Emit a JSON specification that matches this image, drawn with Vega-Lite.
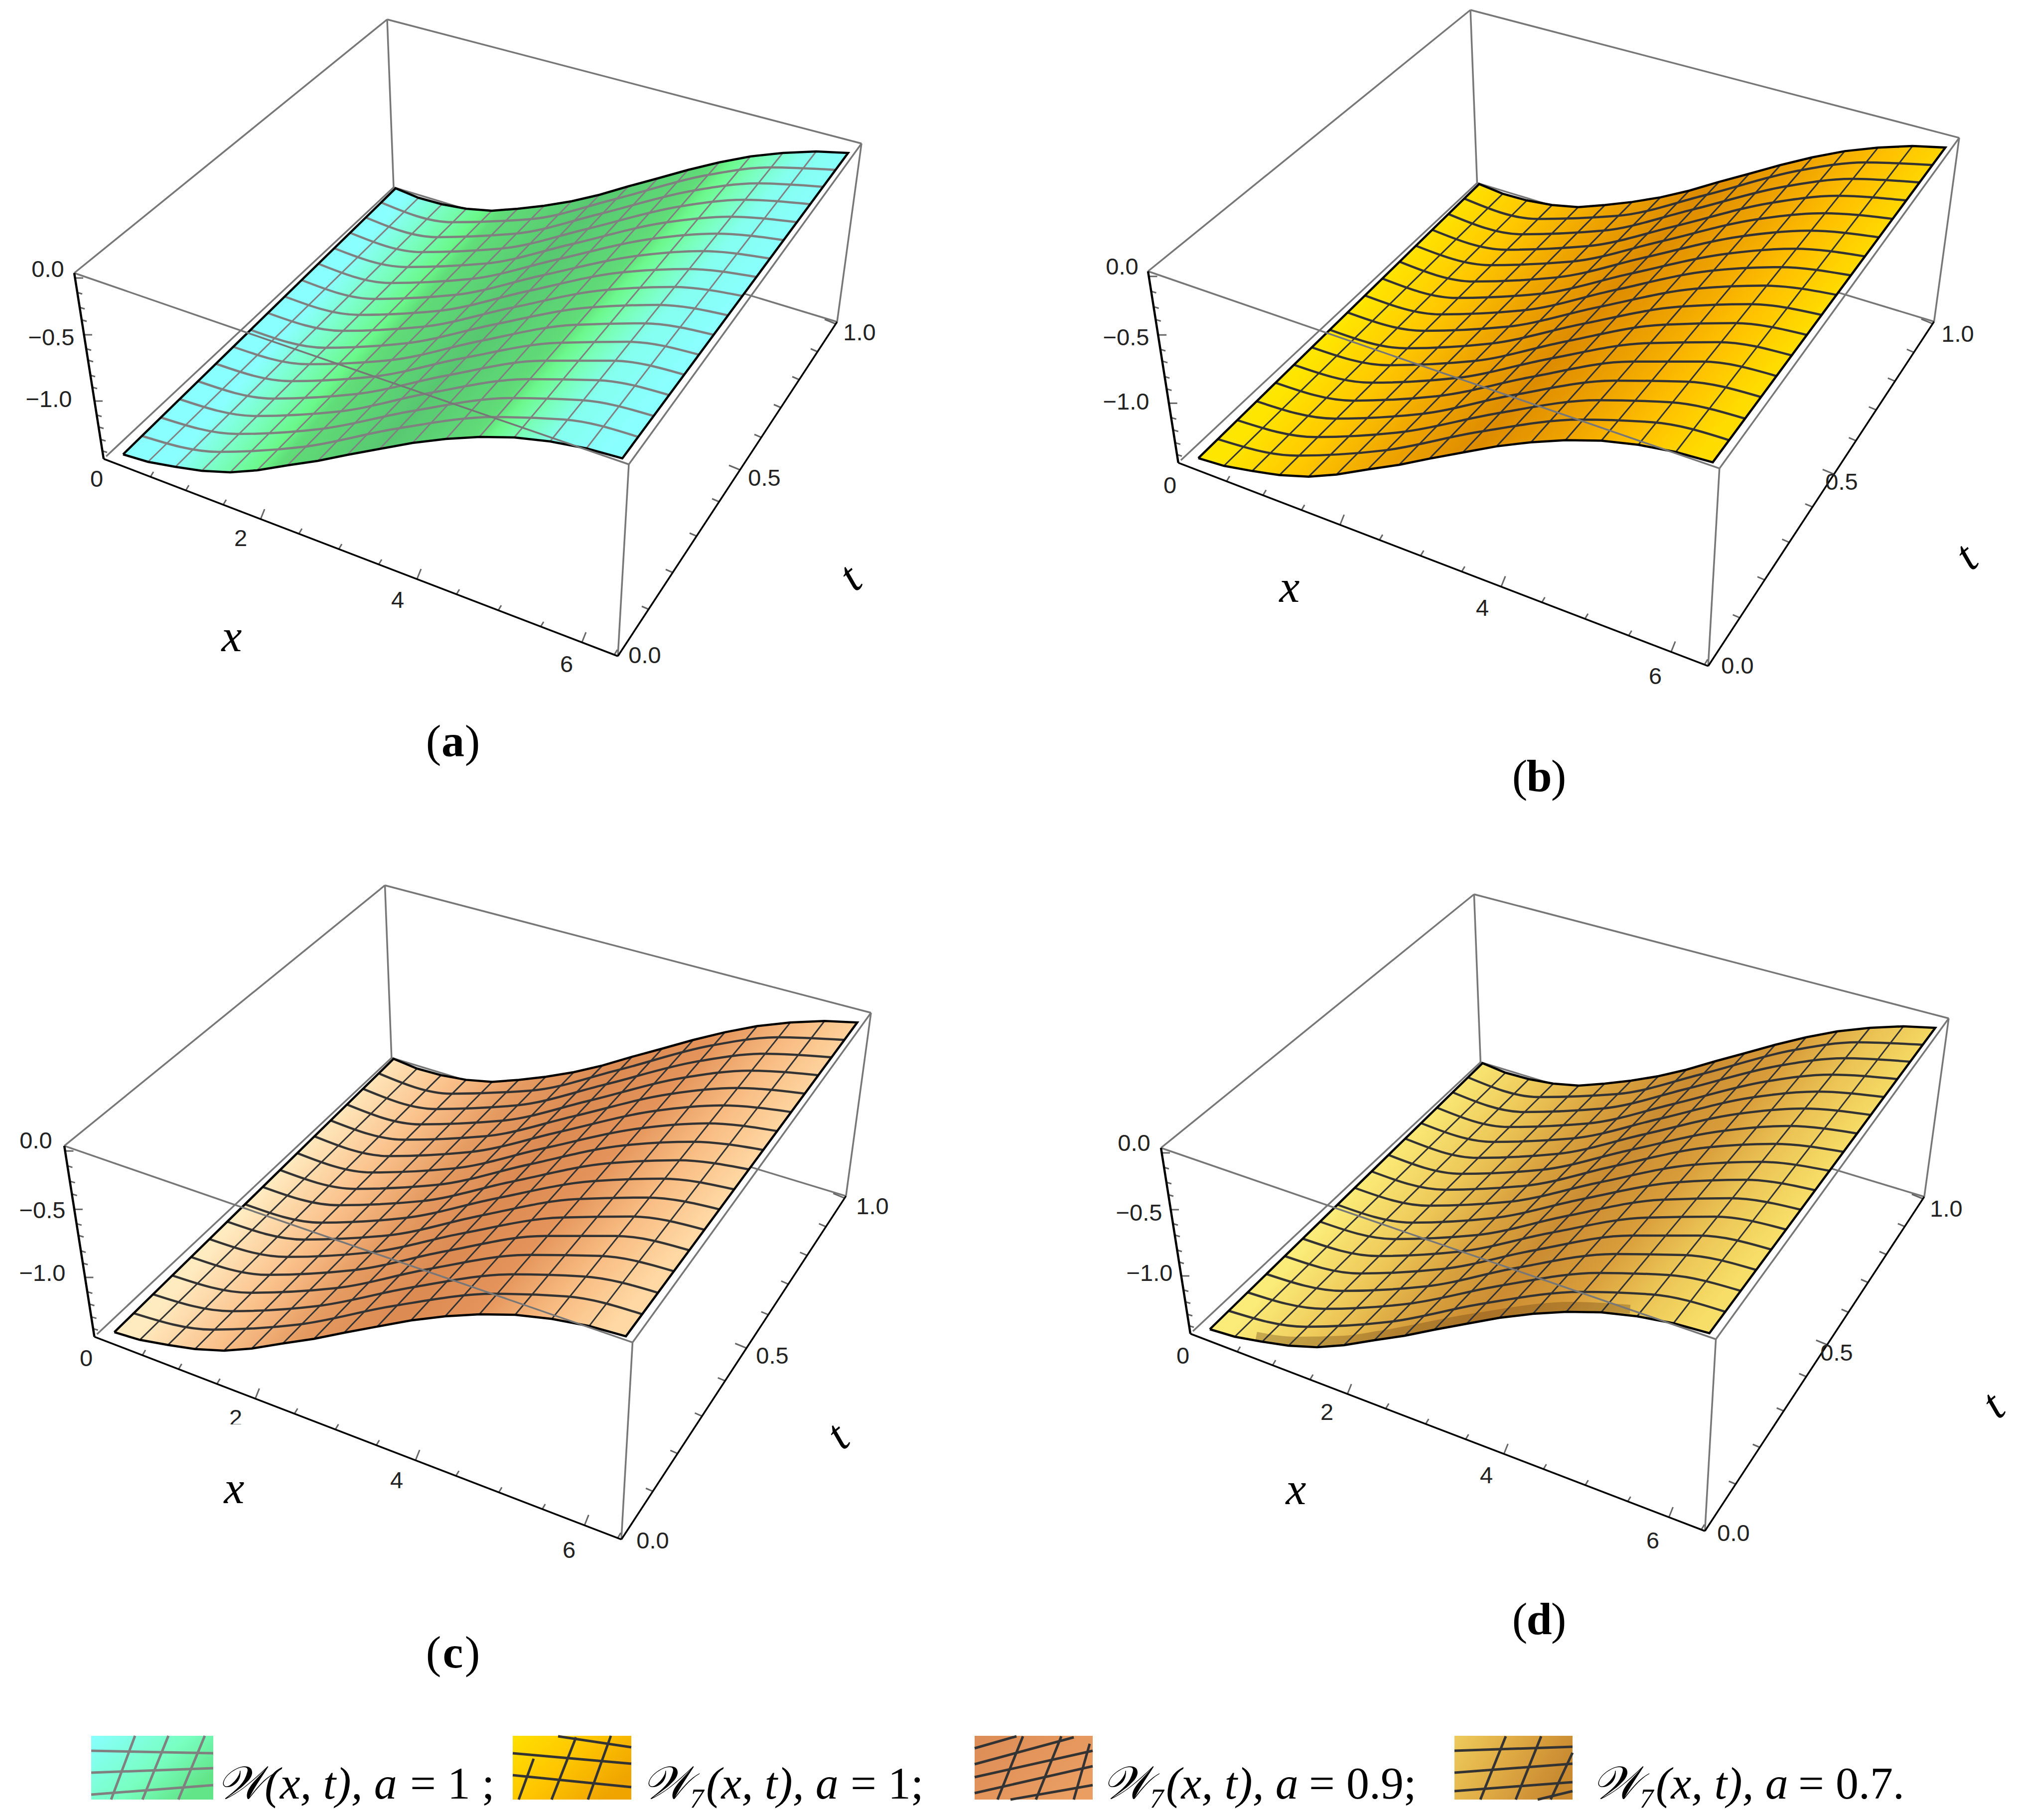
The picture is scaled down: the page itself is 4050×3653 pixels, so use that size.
{"$schema":"https://vega.github.io/schema/vega-lite/v6.json","width":4050,"height":3653,"padding":0,"autosize":{"type":"fit","contains":"padding"},"background":"white","config":{"view":{"stroke":null}},
"datasets":{
"rules":[
{"k":"back","x":149,"y":548,"x2":777,"y2":39},{"k":"back","x":777,"y":39,"x2":1729,"y2":288},{"k":"back","x":777,"y":39,"x2":790,"y2":376},{"k":"back","x":790,"y":376,"x2":213,"y2":916},{"k":"back","x":790,"y":376,"x2":1680,"y2":646},{"k":"back","x":1729,"y":288,"x2":1680,"y2":646},
{"k":"front","x":149,"y":548,"x2":1262,"y2":932},{"k":"front","x":1262,"y":932,"x2":1729,"y2":288},{"k":"front","x":1262,"y":932,"x2":1240,"y2":1317},
{"k":"axis","x":208,"y":921,"x2":1240,"y2":1317},{"k":"axis","x":1240,"y":1317,"x2":1680,"y2":646},{"k":"axisz","x":149,"y":548,"x2":208,"y2":921},
{"k":"mesh","x":297,"y":927,"x2":840,"y2":397},{"k":"mesh","x":352,"y":937,"x2":887,"y2":410},{"k":"mesh","x":405,"y":945,"x2":936,"y2":419},{"k":"mesh","x":462,"y":948,"x2":987,"y2":423},{"k":"mesh","x":516,"y":944,"x2":1039,"y2":419},{"k":"mesh","x":577,"y":934,"x2":1092,"y2":413},{"k":"mesh","x":638,"y":925,"x2":1147,"y2":404},{"k":"mesh","x":697,"y":913,"x2":1203,"y2":391},{"k":"mesh","x":762,"y":901,"x2":1261,"y2":374},{"k":"mesh","x":828,"y":889,"x2":1320,"y2":358},{"k":"mesh","x":895,"y":881,"x2":1381,"y2":341},{"k":"mesh","x":962,"y":877,"x2":1443,"y2":326},{"k":"mesh","x":1032,"y":878,"x2":1506,"y2":314},{"k":"mesh","x":1104,"y":886,"x2":1571,"y2":307},{"k":"mesh","x":1177,"y":900,"x2":1638,"y2":304},
{"k":"tick","x":302,"y":957,"x2":308,"y2":947},{"k":"tick","x":373,"y":984,"x2":379,"y2":974},{"k":"tick","x":448,"y":1013,"x2":454,"y2":1003},{"k":"tick","x":523,"y":1042,"x2":531,"y2":1022},{"k":"tick","x":600,"y":1071,"x2":606,"y2":1061},{"k":"tick","x":680,"y":1102,"x2":686,"y2":1092},{"k":"tick","x":760,"y":1133,"x2":766,"y2":1123},{"k":"tick","x":837,"y":1162,"x2":845,"y2":1142},{"k":"tick","x":916,"y":1193,"x2":922,"y2":1183},{"k":"tick","x":1000,"y":1225,"x2":1006,"y2":1215},{"k":"tick","x":1085,"y":1258,"x2":1091,"y2":1248},{"k":"tick","x":1168,"y":1289,"x2":1176,"y2":1269},{"k":"tick","x":1233,"y":1314,"x2":1239,"y2":1304},
{"k":"tick","x":1302,"y":1223,"x2":1288,"y2":1217},{"k":"tick","x":1350,"y":1149,"x2":1336,"y2":1143},{"k":"tick","x":1398,"y":1076,"x2":1384,"y2":1070},{"k":"tick","x":1443,"y":1007,"x2":1429,"y2":1001},{"k":"tick","x":1485,"y":943,"x2":1463,"y2":934},{"k":"tick","x":1528,"y":878,"x2":1514,"y2":872},{"k":"tick","x":1567,"y":818,"x2":1553,"y2":812},{"k":"tick","x":1604,"y":762,"x2":1590,"y2":756},{"k":"tick","x":1641,"y":706,"x2":1627,"y2":700},{"k":"tick","x":1677,"y":650,"x2":1655,"y2":641},
{"k":"tick","x":151,"y":558,"x2":167,"y2":558},{"k":"tick","x":155,"y":587,"x2":165,"y2":590},{"k":"tick","x":160,"y":617,"x2":170,"y2":620},{"k":"tick","x":164,"y":642,"x2":174,"y2":645},{"k":"tick","x":169,"y":672,"x2":185,"y2":672},{"k":"tick","x":173,"y":700,"x2":183,"y2":703},{"k":"tick","x":177,"y":723,"x2":187,"y2":726},{"k":"tick","x":181,"y":753,"x2":191,"y2":756},{"k":"tick","x":185,"y":777,"x2":195,"y2":780},{"k":"tick","x":190,"y":805,"x2":206,"y2":805},{"k":"tick","x":194,"y":833,"x2":204,"y2":836},{"k":"tick","x":198,"y":857,"x2":208,"y2":860},{"k":"tick","x":202,"y":882,"x2":212,"y2":885},{"k":"tick","x":205,"y":905,"x2":215,"y2":908}
],
"poly":[{"i":0,"x":247,"y":912},{"i":1,"x":297,"y":927},{"i":2,"x":352,"y":937},{"i":3,"x":405,"y":945},{"i":4,"x":462,"y":948},{"i":5,"x":516,"y":944},{"i":6,"x":577,"y":934},{"i":7,"x":638,"y":925},{"i":8,"x":697,"y":913},{"i":9,"x":762,"y":901},{"i":10,"x":828,"y":889},{"i":11,"x":895,"y":881},{"i":12,"x":962,"y":877},{"i":13,"x":1032,"y":878},{"i":14,"x":1104,"y":886},{"i":15,"x":1177,"y":900},{"i":16,"x":1249,"y":920},{"i":17,"x":1702,"y":307},{"i":18,"x":1638,"y":304},{"i":19,"x":1571,"y":307},{"i":20,"x":1506,"y":314},{"i":21,"x":1443,"y":326},{"i":22,"x":1381,"y":341},{"i":23,"x":1320,"y":358},{"i":24,"x":1261,"y":374},{"i":25,"x":1203,"y":391},{"i":26,"x":1147,"y":404},{"i":27,"x":1092,"y":413},{"i":28,"x":1039,"y":419},{"i":29,"x":987,"y":423},{"i":30,"x":936,"y":419},{"i":31,"x":887,"y":410},{"i":32,"x":840,"y":397},{"i":33,"x":794,"y":378},{"i":34,"x":247,"y":912}],
"curves":[
{"g":1,"x":285,"y":875},{"g":1,"x":439,"y":907},{"g":1,"x":608,"y":897},{"g":1,"x":792,"y":861},{"g":1,"x":991,"y":837},{"g":1,"x":1132,"y":842},{"g":1,"x":1281,"y":877},
{"g":2,"x":323,"y":838},{"g":2,"x":476,"y":871},{"g":2,"x":644,"y":861},{"g":2,"x":827,"y":825},{"g":2,"x":1025,"y":799},{"g":2,"x":1165,"y":803},{"g":2,"x":1312,"y":835},
{"g":3,"x":360,"y":801},{"g":3,"x":513,"y":835},{"g":3,"x":680,"y":826},{"g":3,"x":861,"y":789},{"g":3,"x":1058,"y":761},{"g":3,"x":1197,"y":763},{"g":3,"x":1343,"y":793},
{"g":4,"x":397,"y":765},{"g":4,"x":548,"y":800},{"g":4,"x":714,"y":791},{"g":4,"x":895,"y":754},{"g":4,"x":1090,"y":724},{"g":4,"x":1228,"y":724},{"g":4,"x":1373,"y":752},
{"g":5,"x":433,"y":730},{"g":5,"x":584,"y":765},{"g":5,"x":749,"y":756},{"g":5,"x":928,"y":719},{"g":5,"x":1122,"y":688},{"g":5,"x":1259,"y":686},{"g":5,"x":1403,"y":712},
{"g":6,"x":468,"y":696},{"g":6,"x":618,"y":731},{"g":6,"x":782,"y":723},{"g":6,"x":961,"y":685},{"g":6,"x":1153,"y":652},{"g":6,"x":1290,"y":649},{"g":6,"x":1432,"y":672},
{"g":7,"x":503,"y":662},{"g":7,"x":652,"y":698},{"g":7,"x":815,"y":689},{"g":7,"x":993,"y":651},{"g":7,"x":1184,"y":617},{"g":7,"x":1320,"y":612},{"g":7,"x":1461,"y":633},
{"g":8,"x":537,"y":628},{"g":8,"x":686,"y":664},{"g":8,"x":848,"y":656},{"g":8,"x":1025,"y":618},{"g":8,"x":1215,"y":582},{"g":8,"x":1350,"y":576},{"g":8,"x":1490,"y":594},
{"g":9,"x":571,"y":595},{"g":9,"x":719,"y":632},{"g":9,"x":880,"y":624},{"g":9,"x":1056,"y":585},{"g":9,"x":1245,"y":547},{"g":9,"x":1379,"y":540},{"g":9,"x":1518,"y":556},
{"g":10,"x":605,"y":562},{"g":10,"x":751,"y":600},{"g":10,"x":912,"y":592},{"g":10,"x":1087,"y":553},{"g":10,"x":1275,"y":514},{"g":10,"x":1408,"y":504},{"g":10,"x":1545,"y":519},
{"g":11,"x":638,"y":529},{"g":11,"x":784,"y":568},{"g":11,"x":944,"y":560},{"g":11,"x":1117,"y":521},{"g":11,"x":1304,"y":480},{"g":11,"x":1436,"y":469},{"g":11,"x":1573,"y":482},
{"g":12,"x":670,"y":498},{"g":12,"x":815,"y":536},{"g":12,"x":974,"y":529},{"g":12,"x":1147,"y":490},{"g":12,"x":1333,"y":447},{"g":12,"x":1464,"y":435},{"g":12,"x":1600,"y":446},
{"g":13,"x":702,"y":467},{"g":13,"x":846,"y":506},{"g":13,"x":1005,"y":499},{"g":13,"x":1176,"y":460},{"g":13,"x":1361,"y":415},{"g":13,"x":1492,"y":401},{"g":13,"x":1626,"y":410},
{"g":14,"x":733,"y":436},{"g":14,"x":877,"y":476},{"g":14,"x":1034,"y":469},{"g":14,"x":1205,"y":429},{"g":14,"x":1389,"y":383},{"g":14,"x":1519,"y":368},{"g":14,"x":1652,"y":375},
{"g":15,"x":764,"y":406},{"g":15,"x":907,"y":446},{"g":15,"x":1063,"y":440},{"g":15,"x":1233,"y":400},{"g":15,"x":1416,"y":352},{"g":15,"x":1545,"y":336},{"g":15,"x":1677,"y":341}
],
"shade":[{"x":340,"y":926},{"x":418,"y":936},{"x":516,"y":934},{"x":588,"y":924},{"x":772,"y":890},{"x":972,"y":866},{"x":1090,"y":872}],
"swatch":[{"n":1,"x":183,"x2":428,"y":3484,"y2":3612},{"n":2,"x":1029,"x2":1267,"y":3484,"y2":3612},{"n":3,"x":1956,"x2":2193,"y":3484,"y2":3612},{"n":4,"x":2919,"x2":3156,"y":3484,"y2":3612}],
"mask":[{"x":450,"x2":500,"y":2859,"y2":2885}],
"swatchlines":[
{"n":1,"x":223,"y":3612,"x2":271,"y2":3484},{"n":1,"x":286,"y":3612,"x2":338,"y2":3484},{"n":1,"x":358,"y":3612,"x2":411,"y2":3484},{"n":1,"x":183,"y":3514,"x2":428,"y2":3519},{"n":1,"x":183,"y":3558,"x2":428,"y2":3549},{"n":1,"x":183,"y":3602,"x2":428,"y2":3583},
{"n":2,"x":1041,"y":3612,"x2":1071,"y2":3530},{"n":2,"x":1107,"y":3612,"x2":1156,"y2":3487},{"n":2,"x":1180,"y":3612,"x2":1226,"y2":3484},{"n":2,"x":1120,"y":3485,"x2":1267,"y2":3507},{"n":2,"x":1029,"y":3519,"x2":1267,"y2":3540},{"n":2,"x":1029,"y":3563,"x2":1267,"y2":3587},
{"n":3,"x":1956,"y":3509,"x2":2040,"y2":3485},{"n":3,"x":1956,"y":3541,"x2":2155,"y2":3487},{"n":3,"x":1956,"y":3567,"x2":2193,"y2":3514},{"n":3,"x":1956,"y":3599,"x2":2193,"y2":3545},{"n":3,"x":2028,"y":3612,"x2":2193,"y2":3583},{"n":3,"x":2002,"y":3612,"x2":2053,"y2":3485},{"n":3,"x":2079,"y":3612,"x2":2130,"y2":3485},{"n":3,"x":2155,"y":3612,"x2":2187,"y2":3500},
{"n":4,"x":2919,"y":3514,"x2":3156,"y2":3506},{"n":4,"x":2919,"y":3558,"x2":3156,"y2":3540},{"n":4,"x":2919,"y":3595,"x2":3156,"y2":3577},{"n":4,"x":3086,"y":3612,"x2":3156,"y2":3595},{"n":4,"x":2971,"y":3612,"x2":3022,"y2":3485},{"n":4,"x":3042,"y":3612,"x2":3093,"y2":3485},{"n":4,"x":3112,"y":3612,"x2":3156,"y2":3518}
],
"labels":[
{"s":"n","x":96,"y":542,"text":"0.0"},{"s":"n","x":103,"y":679,"text":"−0.5"},{"s":"n","x":98,"y":803,"text":"−1.0"},{"s":"n","x":194,"y":963,"text":"0"},{"s":"n","x":483,"y":1082,"text":"2"},{"s":"n","x":798,"y":1206,"text":"4"},{"s":"n","x":1137,"y":1335,"text":"6"},{"s":"n","x":1294,"y":1317,"text":"0.0"},{"s":"n","x":1534,"y":961,"text":"0.5"},{"s":"n","x":1725,"y":669,"text":"1.0"},
{"s":"i","x":465,"y":1279,"text":"x"},{"s":"t","x":1707,"y":1160,"text":"t"},
{"s":"n","x":2252,"y":537,"text":"0.0"},{"s":"n","x":2260,"y":679,"text":"−0.5"},{"s":"n","x":2260,"y":808,"text":"−1.0"},{"s":"n","x":2348,"y":976,"text":"0"},{"s":"n","x":2975,"y":1222,"text":"4"},{"s":"n","x":3322,"y":1359,"text":"6"},{"s":"n","x":3487,"y":1338,"text":"0.0"},{"s":"n","x":3696,"y":969,"text":"0.5"},{"s":"n","x":3929,"y":672,"text":"1.0"},
{"s":"i","x":2588,"y":1180,"text":"x"},{"s":"t","x":3947,"y":1118,"text":"t"},
{"s":"n","x":72,"y":2291,"text":"0.0"},{"s":"n","x":85,"y":2431,"text":"−0.5"},{"s":"n","x":85,"y":2557,"text":"−1.0"},{"s":"n","x":173,"y":2728,"text":"0"},{"s":"n","x":473,"y":2848,"text":"2"},{"s":"n","x":796,"y":2973,"text":"4"},{"s":"n","x":1142,"y":3113,"text":"6"},{"s":"n","x":1310,"y":3094,"text":"0.0"},{"s":"n","x":1550,"y":2723,"text":"0.5"},{"s":"n","x":1751,"y":2423,"text":"1.0"},
{"s":"i","x":470,"y":2989,"text":"x"},{"s":"t","x":1682,"y":2883,"text":"t"},
{"s":"n","x":2276,"y":2296,"text":"0.0"},{"s":"n","x":2286,"y":2436,"text":"−0.5"},{"s":"n","x":2307,"y":2557,"text":"−1.0"},{"s":"n","x":2374,"y":2723,"text":"0"},{"s":"n","x":2663,"y":2836,"text":"2"},{"s":"n","x":2983,"y":2963,"text":"4"},{"s":"n","x":3317,"y":3094,"text":"6"},{"s":"n","x":3479,"y":3079,"text":"0.0"},{"s":"n","x":3686,"y":2717,"text":"0.5"},{"s":"n","x":3906,"y":2428,"text":"1.0"},
{"s":"i","x":2601,"y":2991,"text":"x"},{"s":"t","x":4001,"y":2821,"text":"t"},
{"s":"c","x":870,"y":1490,"text":"("},{"s":"b","x":909,"y":1490,"text":"a"},{"s":"c","x":948,"y":1490,"text":")"},
{"s":"c","x":3050,"y":1560,"text":"("},{"s":"b","x":3089,"y":1560,"text":"b"},{"s":"c","x":3128,"y":1560,"text":")"},
{"s":"c","x":870,"y":3319,"text":"("},{"s":"b","x":909,"y":3319,"text":"c"},{"s":"c","x":948,"y":3319,"text":")"},
{"s":"c","x":3050,"y":3252,"text":"("},{"s":"b","x":3089,"y":3252,"text":"d"},{"s":"c","x":3128,"y":3252,"text":")"},
{"s":"li","x":435,"y":3610,"text":"𝒲(x, t), a"},{"s":"lr","x":823,"y":3610,"text":"= 1 ;"},
{"s":"li","x":1289,"y":3610,"text":"𝒲₇(x, t), a"},{"s":"lr","x":1707,"y":3610,"text":"= 1;"},
{"s":"li","x":2212,"y":3610,"text":"𝒲₇(x, t), a"},{"s":"lr","x":2627,"y":3610,"text":"= 0.9;"},
{"s":"li","x":3195,"y":3610,"text":"𝒲₇(x, t), a"},{"s":"lr","x":3609,"y":3610,"text":"= 0.7."}
]},
"resolve":{"scale":{"x":"independent","y":"independent"}},
"layer":[
{"encoding":{"x":{"field":"x","type":"quantitative","axis":null,"scale":{"domain":[0,4050],"nice":false,"zero":false}},"y":{"field":"y","type":"quantitative","axis":null,"scale":{"domain":[3653,0],"nice":false,"zero":false}}},
"layer":[
{"data":{"name":"rules"},"transform":[{"filter":"datum.k=='back'"}],"mark":{"type":"rule","stroke":"#777777","strokeWidth":3.5},"encoding":{"x2":{"field":"x2"},"y2":{"field":"y2"}}},
{"data":{"name":"poly"},"mark":{"type":"line","stroke":"transparent","fill":{"gradient":"linear","x1":0.345,"y1":0.134,"x2":0.896,"y2":0.347,"stops":[{"offset":0,"color":"#8AFFFF"},{"offset":0.07,"color":"#8AFFFF"},{"offset":0.16,"color":"#7CFFCC"},{"offset":0.27,"color":"#6AF88A"},{"offset":0.31,"color":"#60DC78"},{"offset":0.5,"color":"#58C870"},{"offset":0.68,"color":"#60DC78"},{"offset":0.72,"color":"#6CF88C"},{"offset":0.78,"color":"#78FFB8"},{"offset":0.86,"color":"#84FFEE"},{"offset":1,"color":"#8AFFFF"}]}},"encoding":{"order":{"field":"i"}}},
{"data":{"name":"rules"},"transform":[{"filter":"datum.k=='mesh'"}],"mark":{"type":"rule","stroke":"#808080","strokeWidth":3},"encoding":{"x2":{"field":"x2"},"y2":{"field":"y2"}}},
{"data":{"name":"curves"},"mark":{"type":"line","stroke":"#808080","strokeWidth":4.5,"interpolate":"monotone"},"encoding":{"detail":{"field":"g"}}},
{"data":{"name":"poly"},"mark":{"type":"line","stroke":"#000000","strokeWidth":4.5},"encoding":{"order":{"field":"i"}}},
{"data":{"name":"rules"},"transform":[{"filter":"datum.k=='front'"}],"mark":{"type":"rule","stroke":"#777777","strokeWidth":3.5},"encoding":{"x2":{"field":"x2"},"y2":{"field":"y2"}}},
{"data":{"name":"rules"},"transform":[{"filter":"datum.k=='tick'"}],"mark":{"type":"rule","stroke":"#666666","strokeWidth":3},"encoding":{"x2":{"field":"x2"},"y2":{"field":"y2"}}},
{"data":{"name":"rules"},"transform":[{"filter":"datum.k=='axis'"}],"mark":{"type":"rule","stroke":"#000000","strokeWidth":3.5},"encoding":{"x2":{"field":"x2"},"y2":{"field":"y2"}}},
{"data":{"name":"rules"},"transform":[{"filter":"datum.k=='axisz'"}],"mark":{"type":"rule","stroke":"#000000","strokeWidth":4.5},"encoding":{"x2":{"field":"x2"},"y2":{"field":"y2"}}}
]},
{"encoding":{"x":{"field":"x","type":"quantitative","axis":null,"scale":{"domain":[-2087,1843.5],"nice":false,"zero":false}},"y":{"field":"y","type":"quantitative","axis":null,"scale":{"domain":[3564.6,19.6],"nice":false,"zero":false}}},
"layer":[
{"data":{"name":"rules"},"transform":[{"filter":"datum.k=='back'"}],"mark":{"type":"rule","stroke":"#777777","strokeWidth":3.5},"encoding":{"x2":{"field":"x2"},"y2":{"field":"y2"}}},
{"data":{"name":"poly"},"mark":{"type":"line","stroke":"transparent","fill":{"gradient":"linear","x1":0.345,"y1":0.134,"x2":0.896,"y2":0.347,"stops":[{"offset":0,"color":"#FFE600"},{"offset":0.18,"color":"#FFC800"},{"offset":0.36,"color":"#EDA200"},{"offset":0.52,"color":"#DD8C00"},{"offset":0.68,"color":"#EEA200"},{"offset":0.84,"color":"#FFC000"},{"offset":1,"color":"#FFDC00"}]}},"encoding":{"order":{"field":"i"}}},
{"data":{"name":"rules"},"transform":[{"filter":"datum.k=='mesh'"}],"mark":{"type":"rule","stroke":"#333333","strokeWidth":3},"encoding":{"x2":{"field":"x2"},"y2":{"field":"y2"}}},
{"data":{"name":"curves"},"mark":{"type":"line","stroke":"#333333","strokeWidth":4.5,"interpolate":"monotone"},"encoding":{"detail":{"field":"g"}}},
{"data":{"name":"poly"},"mark":{"type":"line","stroke":"#000000","strokeWidth":4.5},"encoding":{"order":{"field":"i"}}},
{"data":{"name":"rules"},"transform":[{"filter":"datum.k=='front'"}],"mark":{"type":"rule","stroke":"#777777","strokeWidth":3.5},"encoding":{"x2":{"field":"x2"},"y2":{"field":"y2"}}},
{"data":{"name":"rules"},"transform":[{"filter":"datum.k=='tick'"}],"mark":{"type":"rule","stroke":"#666666","strokeWidth":3},"encoding":{"x2":{"field":"x2"},"y2":{"field":"y2"}}},
{"data":{"name":"rules"},"transform":[{"filter":"datum.k=='axis'"}],"mark":{"type":"rule","stroke":"#000000","strokeWidth":3.5},"encoding":{"x2":{"field":"x2"},"y2":{"field":"y2"}}},
{"data":{"name":"rules"},"transform":[{"filter":"datum.k=='axisz'"}],"mark":{"type":"rule","stroke":"#000000","strokeWidth":4.5},"encoding":{"x2":{"field":"x2"},"y2":{"field":"y2"}}}
]},
{"encoding":{"x":{"field":"x","type":"quantitative","axis":null,"scale":{"domain":[23.1,3975.5],"nice":false,"zero":false}},"y":{"field":"y","type":"quantitative","axis":null,"scale":{"domain":[1865,-1690.6],"nice":false,"zero":false}}},
"layer":[
{"data":{"name":"rules"},"transform":[{"filter":"datum.k=='back'"}],"mark":{"type":"rule","stroke":"#777777","strokeWidth":3.5},"encoding":{"x2":{"field":"x2"},"y2":{"field":"y2"}}},
{"data":{"name":"poly"},"mark":{"type":"line","stroke":"transparent","fill":{"gradient":"linear","x1":0.345,"y1":0.134,"x2":0.896,"y2":0.347,"stops":[{"offset":0,"color":"#FFEBC0"},{"offset":0.2,"color":"#FAC08A"},{"offset":0.36,"color":"#E49A60"},{"offset":0.52,"color":"#DB8A52"},{"offset":0.68,"color":"#E4945A"},{"offset":0.84,"color":"#F8BC82"},{"offset":1,"color":"#FFD8A4"}]}},"encoding":{"order":{"field":"i"}}},
{"data":{"name":"rules"},"transform":[{"filter":"datum.k=='mesh'"}],"mark":{"type":"rule","stroke":"#333333","strokeWidth":3},"encoding":{"x2":{"field":"x2"},"y2":{"field":"y2"}}},
{"data":{"name":"curves"},"mark":{"type":"line","stroke":"#333333","strokeWidth":4.5,"interpolate":"monotone"},"encoding":{"detail":{"field":"g"}}},
{"data":{"name":"poly"},"mark":{"type":"line","stroke":"#000000","strokeWidth":4.5},"encoding":{"order":{"field":"i"}}},
{"data":{"name":"rules"},"transform":[{"filter":"datum.k=='front'"}],"mark":{"type":"rule","stroke":"#777777","strokeWidth":3.5},"encoding":{"x2":{"field":"x2"},"y2":{"field":"y2"}}},
{"data":{"name":"rules"},"transform":[{"filter":"datum.k=='tick'"}],"mark":{"type":"rule","stroke":"#666666","strokeWidth":3},"encoding":{"x2":{"field":"x2"},"y2":{"field":"y2"}}},
{"data":{"name":"rules"},"transform":[{"filter":"datum.k=='axis'"}],"mark":{"type":"rule","stroke":"#000000","strokeWidth":3.5},"encoding":{"x2":{"field":"x2"},"y2":{"field":"y2"}}},
{"data":{"name":"rules"},"transform":[{"filter":"datum.k=='axisz'"}],"mark":{"type":"rule","stroke":"#000000","strokeWidth":4.5},"encoding":{"x2":{"field":"x2"},"y2":{"field":"y2"}}}
]},
{"encoding":{"x":{"field":"x","type":"quantitative","axis":null,"scale":{"domain":[-2179.6,1868],"nice":false,"zero":false}},"y":{"field":"y","type":"quantitative","axis":null,"scale":{"domain":[1897,-1756],"nice":false,"zero":false}}},
"layer":[
{"data":{"name":"rules"},"transform":[{"filter":"datum.k=='back'"}],"mark":{"type":"rule","stroke":"#777777","strokeWidth":3.5},"encoding":{"x2":{"field":"x2"},"y2":{"field":"y2"}}},
{"data":{"name":"poly"},"mark":{"type":"line","stroke":"transparent","fill":{"gradient":"linear","x1":0.345,"y1":0.134,"x2":0.896,"y2":0.347,"stops":[{"offset":0,"color":"#FBEB78"},{"offset":0.2,"color":"#EDC858"},{"offset":0.36,"color":"#D9A23E"},{"offset":0.52,"color":"#CB8C32"},{"offset":0.68,"color":"#D89C3A"},{"offset":0.84,"color":"#EBC455"},{"offset":1,"color":"#F7DE68"}]}},"encoding":{"order":{"field":"i"}}},
{"data":{"name":"shade"},"mark":{"type":"line","stroke":"#6A4214","strokeWidth":18,"opacity":0.35,"interpolate":"monotone"},"encoding":{}},
{"data":{"name":"rules"},"transform":[{"filter":"datum.k=='mesh'"}],"mark":{"type":"rule","stroke":"#333333","strokeWidth":3},"encoding":{"x2":{"field":"x2"},"y2":{"field":"y2"}}},
{"data":{"name":"curves"},"mark":{"type":"line","stroke":"#333333","strokeWidth":4.5,"interpolate":"monotone"},"encoding":{"detail":{"field":"g"}}},
{"data":{"name":"poly"},"mark":{"type":"line","stroke":"#000000","strokeWidth":4.5},"encoding":{"order":{"field":"i"}}},
{"data":{"name":"rules"},"transform":[{"filter":"datum.k=='front'"}],"mark":{"type":"rule","stroke":"#777777","strokeWidth":3.5},"encoding":{"x2":{"field":"x2"},"y2":{"field":"y2"}}},
{"data":{"name":"rules"},"transform":[{"filter":"datum.k=='tick'"}],"mark":{"type":"rule","stroke":"#666666","strokeWidth":3},"encoding":{"x2":{"field":"x2"},"y2":{"field":"y2"}}},
{"data":{"name":"rules"},"transform":[{"filter":"datum.k=='axis'"}],"mark":{"type":"rule","stroke":"#000000","strokeWidth":3.5},"encoding":{"x2":{"field":"x2"},"y2":{"field":"y2"}}},
{"data":{"name":"rules"},"transform":[{"filter":"datum.k=='axisz'"}],"mark":{"type":"rule","stroke":"#000000","strokeWidth":4.5},"encoding":{"x2":{"field":"x2"},"y2":{"field":"y2"}}}
]},
{"encoding":{"x":{"field":"x","type":"quantitative","axis":null,"scale":{"domain":[0,4050],"nice":false,"zero":false}},"y":{"field":"y","type":"quantitative","axis":null,"scale":{"domain":[3653,0],"nice":false,"zero":false}}},
"layer":[
{"data":{"name":"swatch"},"transform":[{"filter":"datum.n==1"}],"mark":{"type":"rect","fill":{"gradient":"linear","x1":0,"y1":0,"x2":1,"y2":0.6,"stops":[{"offset":0,"color":"#88FFFF"},{"offset":0.6,"color":"#78FFC0"},{"offset":1,"color":"#62E488"}]}},"encoding":{"x2":{"field":"x2"},"y2":{"field":"y2"}}},
{"data":{"name":"swatch"},"transform":[{"filter":"datum.n==2"}],"mark":{"type":"rect","fill":{"gradient":"linear","x1":0,"y1":0,"x2":1,"y2":0.6,"stops":[{"offset":0,"color":"#FFE000"},{"offset":0.5,"color":"#FFC600"},{"offset":1,"color":"#EFA400"}]}},"encoding":{"x2":{"field":"x2"},"y2":{"field":"y2"}}},
{"data":{"name":"swatch"},"transform":[{"filter":"datum.n==3"}],"mark":{"type":"rect","fill":{"gradient":"linear","x1":0,"y1":0,"x2":1,"y2":0.6,"stops":[{"offset":0,"color":"#DC8C56"},{"offset":1,"color":"#EA9E62"}]}},"encoding":{"x2":{"field":"x2"},"y2":{"field":"y2"}}},
{"data":{"name":"swatch"},"transform":[{"filter":"datum.n==4"}],"mark":{"type":"rect","fill":{"gradient":"linear","x1":0,"y1":0,"x2":1,"y2":0.3,"stops":[{"offset":0,"color":"#EDCB5B"},{"offset":0.5,"color":"#DFAA44"},{"offset":1,"color":"#C98A30"}]}},"encoding":{"x2":{"field":"x2"},"y2":{"field":"y2"}}},
{"data":{"name":"swatchlines"},"transform":[{"filter":"datum.n==1"}],"mark":{"type":"rule","stroke":"#808080","strokeWidth":5},"encoding":{"x2":{"field":"x2"},"y2":{"field":"y2"}}},
{"data":{"name":"swatchlines"},"transform":[{"filter":"datum.n>1"}],"mark":{"type":"rule","stroke":"#333333","strokeWidth":5},"encoding":{"x2":{"field":"x2"},"y2":{"field":"y2"}}},
{"data":{"name":"labels"},"transform":[{"filter":"datum.s=='n'"}],"mark":{"type":"text","font":"Liberation Sans","fontSize":47,"fill":"#222222","align":"center","baseline":"middle"},"encoding":{"text":{"field":"text"}}},
{"data":{"name":"mask"},"mark":{"type":"rect","fill":"white"},"encoding":{"x2":{"field":"x2"},"y2":{"field":"y2"}}},
{"data":{"name":"labels"},"transform":[{"filter":"datum.s=='i'"}],"mark":{"type":"text","font":"Liberation Serif","fontStyle":"italic","fontSize":92,"fill":"#000000","align":"center","baseline":"middle"},"encoding":{"text":{"field":"text"}}},
{"data":{"name":"labels"},"transform":[{"filter":"datum.s=='t'"}],"mark":{"type":"text","font":"Liberation Serif","fontStyle":"italic","fontSize":92,"fill":"#000000","align":"center","baseline":"middle","angle":-40},"encoding":{"text":{"field":"text"}}},
{"data":{"name":"labels"},"transform":[{"filter":"datum.s=='c'"}],"mark":{"type":"text","font":"Liberation Serif","fontSize":92,"fill":"#000000","align":"center","baseline":"middle"},"encoding":{"text":{"field":"text"}}},
{"data":{"name":"labels"},"transform":[{"filter":"datum.s=='b'"}],"mark":{"type":"text","font":"Liberation Serif","fontWeight":"bold","fontSize":92,"fill":"#000000","align":"center","baseline":"middle"},"encoding":{"text":{"field":"text"}}},
{"data":{"name":"labels"},"transform":[{"filter":"datum.s=='li'"}],"mark":{"type":"text","font":"Liberation Serif","fontStyle":"italic","fontSize":92,"fill":"#000000","align":"left","baseline":"alphabetic"},"encoding":{"text":{"field":"text"}}},
{"data":{"name":"labels"},"transform":[{"filter":"datum.s=='lr'"}],"mark":{"type":"text","font":"Liberation Serif","fontSize":92,"fill":"#000000","align":"left","baseline":"alphabetic"},"encoding":{"text":{"field":"text"}}}
]}
]}
